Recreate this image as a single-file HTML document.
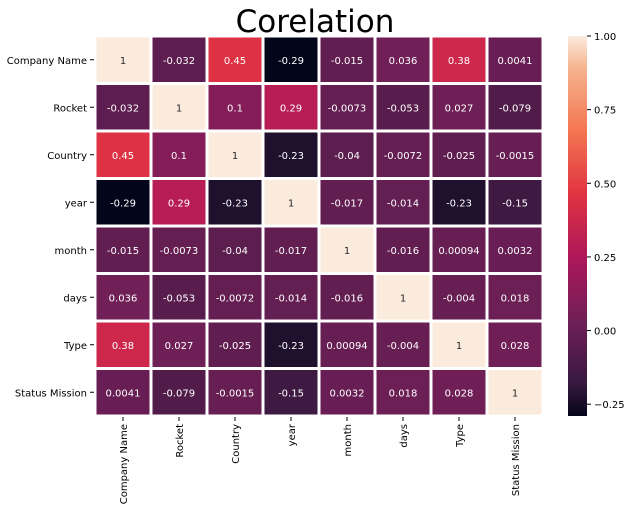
<!DOCTYPE html>
<html><head><meta charset="utf-8">
<style>
body{margin:0;background:#fff;font-family:"Liberation Sans","DejaVu Sans",sans-serif;}
svg text{font-family:"DejaVu Sans","Liberation Sans",sans-serif;}
</style></head>
<body>
<svg id="chart" width="631" height="510" xmlns="http://www.w3.org/2000/svg">
<text x="315" y="32" text-anchor="middle" font-size="31" fill="#000">Corelation</text>
<g id="cells"></g><g id="ylab"></g><g id="xlab"></g>
<defs><linearGradient id="cg" x1="0" y1="1" x2="0" y2="0">
<stop offset="0" stop-color="#03051a"/><stop offset="0.0833" stop-color="#35193e"/><stop offset="0.25" stop-color="#701f57"/><stop offset="0.4167" stop-color="#ad1759"/><stop offset="0.5833" stop-color="#e13342"/><stop offset="0.75" stop-color="#f37651"/><stop offset="0.9167" stop-color="#f6b48f"/><stop offset="1" stop-color="#faebdd"/></linearGradient></defs>
<rect x="568" y="36" width="19" height="380" fill="url(#cg)"/>
<g id="cbticks"></g>
</svg>
<script>
const labels=["Company Name","Rocket","Country","year","month","days","Type","Status Mission"];
const row0=[1,-0.032,0.45,-0.29,-0.015,0.036,0.38,0.0041];
const row1=[-0.032,1,0.1,0.29,-0.0073,-0.053,0.027,-0.079];
const row2=[0.45,0.1,1,-0.23,-0.04,-0.0072,-0.025,-0.0015];
const row3=[-0.29,0.29,-0.23,1,-0.017,-0.014,-0.23,-0.15];
const row4=[-0.015,-0.0073,-0.04,-0.017,1,-0.016,0.00094,0.0032];
const row5=[0.036,-0.053,-0.0072,-0.014,-0.016,1,-0.004,0.018];
const row6=[0.38,0.027,-0.025,-0.23,0.00094,-0.004,1,0.028];
const row7=[0.0041,-0.079,-0.0015,-0.15,0.0032,0.018,0.028,1];
const rows=[row0,row1,row2,row3,row4,row5,row6,row7];
const cbTicks=[-0.25,0,0.25,0.5,0.75,1];
const cbTickLabels=["\u22120.25","0.00","0.25","0.50","0.75","1.00"];
const vmin=-0.29,vmax=1;
const X0=95,Y0=36,W=448,H=380,cw=W/8,ch=H/8;
const stops=[[0,[3,5,26]],[0.0833,[53,25,62]],[0.25,[112,31,87]],[0.4167,[173,23,89]],[0.5833,[225,51,66]],[0.75,[243,118,81]],[0.9167,[246,180,143]],[1,[250,235,221]]];
function cmap(v){let t=Math.max(0,Math.min(1,(v-vmin)/(vmax-vmin)));
for(let i=1;i<stops.length;i++){if(t<=stops[i][0]){const a=stops[i-1],b=stops[i];const f=(t-a[0])/(b[0]-a[0]);
const c=a[1].map((x,k)=>Math.round(x+(b[1][k]-x)*f));return [`rgb(${c.join(',')})`,t];}}return ['rgb(250,235,221)',1];}
const xs=i=>X0+i*cw, ys=j=>Y0+j*ch, cy=v=>Y0+H-(v-vmin)/(vmax-vmin)*H;
const NS="http://www.w3.org/2000/svg";
function mk(t,a,p){const e=document.createElementNS(NS,t);for(const k in a)e.setAttribute(k,a[k]);p.appendChild(e);return e;}
const G=document.getElementById('cells'),YL=document.getElementById('ylab'),XL=document.getElementById('xlab'),CB=document.getElementById('cbticks');
rows.forEach((r,j)=>{r.forEach((v,i)=>{const [col,t]=cmap(v);
const rc=mk('rect',{x:xs(i)+1.5,y:ys(j)+1.5,width:cw-3,height:ch-3,fill:col},G);


const tx=mk('text',{x:xs(i)+cw/2,y:ys(j)+ch/2+4,'text-anchor':'middle','font-size':'10',fill:t>0.6?'#262626':'#fff'},G);
tx.textContent=String(v);

});});
labels.forEach((l,j)=>{const y=ys(j)+ch/2;
mk('line',{x1:X0-5,x2:X0-1,y1:y,y2:y,stroke:'#000','stroke-width':1},YL);
const t=mk('text',{x:X0-8,y:y+4,'text-anchor':'end','font-size':'10',fill:'#000'},YL);t.textContent=l;


const x=xs(j)+cw/2;
mk('line',{x1:x,x2:x,y1:Y0+H+1,y2:Y0+H+5,stroke:'#000','stroke-width':1},XL);
const u=mk('text',{x:0,y:0,'text-anchor':'end','font-size':'10',fill:'#000',transform:`translate(${x+4},${Y0+H+8}) rotate(-90)`},XL);u.textContent=l;

});
cbTicks.forEach((v,i)=>{const y=cy(v);
mk('line',{x1:587,x2:591,y1:y,y2:y,stroke:'#000','stroke-width':1},CB);
const t=mk('text',{x:594,y:y+4,'font-size':'10',fill:'#000'},CB);t.textContent=cbTickLabels[i];

});
</script>
</body></html>
